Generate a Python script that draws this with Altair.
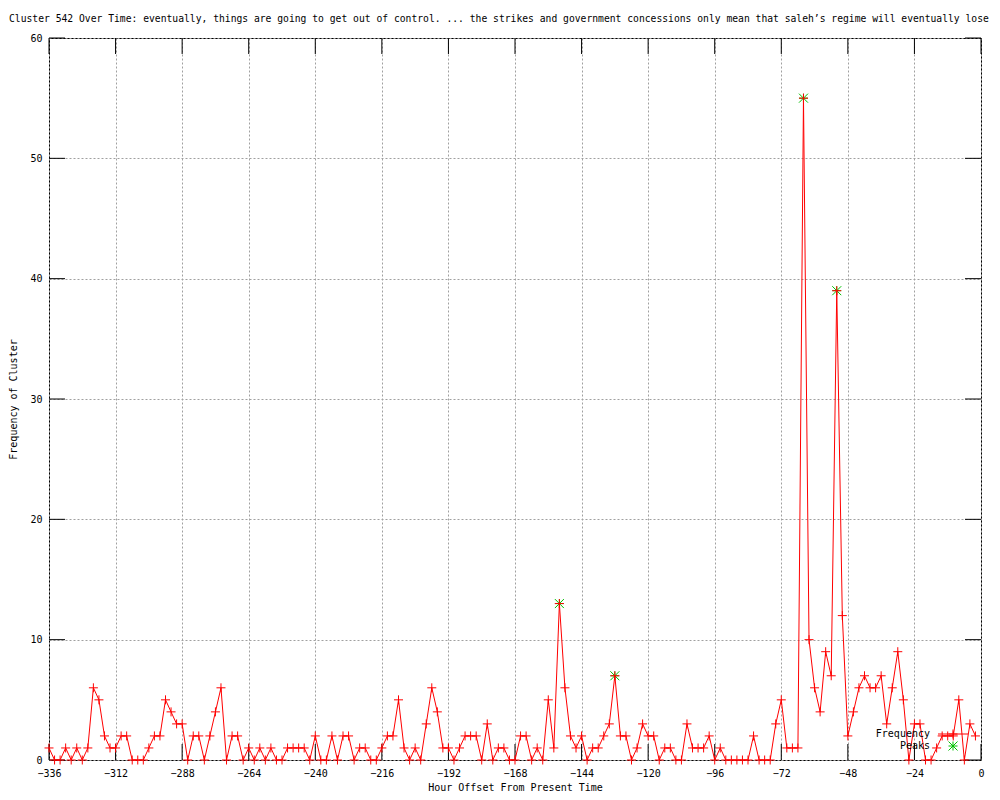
import altair as alt
import pandas as pd

# ---- data ----
hours = list(range(-336, 0, 2))
freq_a = [1, 0, 0, 1, 0, 1, 0, 1, 6, 5, 2, 1, 1, 2, 2, 0, 0, 0, 1, 2, 2, 5, 4, 3, 3, 0, 2, 2, 0, 2, 4, 6, 0, 2, 2, 0, 1]
freq_b = [0, 1, 0, 1, 0, 0, 1, 1, 1, 1, 0, 2, 0, 0, 2, 0, 2, 2, 0, 1, 1, 0, 0, 1, 2, 2, 5, 1, 0, 1, 0, 3, 6, 4, 1, 1, 0, 1, 2, 2, 2, 0, 3]
freq_c = [0, 1, 1, 0, 0, 2, 2, 0, 1, 0, 5, 1, 13, 6, 2, 1, 2, 0, 1, 1, 2, 3, 7, 2, 2, 0, 1, 3, 2, 2, 0, 1, 1, 0, 0, 3, 1, 1, 1, 2, 0, 1, 0, 0, 0]
freq_d = [0, 0, 2, 0, 0, 0, 3, 5, 1, 1, 1, 55, 10, 6, 4, 9, 7, 39, 12, 2, 4, 6, 7, 6, 6, 7, 3, 6, 9, 5, 0, 3, 3, 0, 0, 1, 2, 2, 2, 5, 0, 3, 2]
freq = freq_a + freq_b + freq_c + freq_d

peak_hours = [-152, -132, -64, -52]
peak_values = [13, 7, 55, 39]

x_ticks = list(range(-336, 1, 24))
y_ticks = list(range(0, 61, 10))

title_text = ("Cluster 542 Over Time: eventually, things are going to get out of control. ... "
              "the strikes and government concessions only mean that saleh\u2019s regime will eventually lose")
x_title = "Hour Offset From Present Time"
y_title = "Frequency of Cluster"
legend_labels = ["Frequency", "Peaks"]

# ---- layout ----
W, H = 932, 722
FONT = "DejaVu Sans Mono"
RED = "#ff0000"
GREEN = "#00c000"
GRID = "#a0a0a0"
PLUS = "M-1,0L1,0M0,-1L0,1"
STAR = "M-1,-1L1,1M-1,1L1,-1M-1,0L1,0M0,-1L0,1"

df = pd.DataFrame({"hour": hours, "freq": freq})
peaks_df = pd.DataFrame({"hour": peak_hours, "freq": peak_values})
xt_df = pd.DataFrame({"hour": x_ticks})
yt_df = pd.DataFrame({"freq": y_ticks})

x_scale = alt.Scale(domain=[-336, 0], nice=False, zero=False)
y_scale = alt.Scale(domain=[0, 60], nice=False, zero=True)

x_axis = alt.Axis(values=x_ticks, format="d", grid=True, gridDash=[2, 2], gridColor=GRID,
                  gridWidth=1, ticks=False, tickSize=0, domain=False, labelFont=FONT, labelFontSize=10,
                  labelColor="black", labelPadding=13, labelBaseline="middle", labelFlush=False,
                  labelOverlap=False, title=x_title, titleFont=FONT, titleFontSize=10,
                  titleFontWeight="normal", titleColor="black", titleX=W / 2, titleY=27,
                  titleAlign="center", titleBaseline="middle")
y_axis = alt.Axis(values=y_ticks, format="d", grid=True, gridDash=[2, 2], gridColor=GRID,
                  gridWidth=1, ticks=False, tickSize=0, domain=False, labelFont=FONT, labelFontSize=10,
                  labelColor="black", labelPadding=7, labelFlush=False, labelOverlap=False,
                  title=y_title, titleFont=FONT, titleFontSize=10, titleFontWeight="normal",
                  titleColor="black", titleAngle=270, titleX=-36, titleY=H / 2,
                  titleAlign="center", titleBaseline="middle")

X = alt.X("hour:Q", scale=x_scale, axis=x_axis)
Y = alt.Y("freq:Q", scale=y_scale, axis=y_axis)

line = alt.Chart(df).mark_line(color=RED, strokeWidth=1).encode(x=X, y=Y)
pts = alt.Chart(df).mark_point(shape=PLUS, size=81, color=RED, filled=False,
                               strokeWidth=1, opacity=1).encode(x=X, y=Y)
peaks = alt.Chart(peaks_df).mark_point(shape=STAR, size=81, color=GREEN, filled=False,
                                       strokeWidth=1, opacity=1).encode(x=X, y=Y)

tick_b = alt.Chart(xt_df).mark_rule(color="black", strokeWidth=1).encode(
    x=X, y=alt.value(H), y2=alt.value(H - 16))
tick_t = alt.Chart(xt_df).mark_rule(color="black", strokeWidth=1).encode(
    x=X, y=alt.value(0), y2=alt.value(16))
tick_l = alt.Chart(yt_df).mark_rule(color="black", strokeWidth=1).encode(
    y=Y, x=alt.value(0), x2=alt.value(16))
tick_r = alt.Chart(yt_df).mark_rule(color="black", strokeWidth=1).encode(
    y=Y, x=alt.value(W), x2=alt.value(W - 16))

title_df = pd.DataFrame({"t": [title_text]})
title = alt.Chart(title_df).mark_text(font=FONT, fontSize=9.7, align="left", baseline="middle",
                                      color="black").encode(
    text="t:N", x=alt.value(-40), y=alt.value(-19))

leg_df1 = pd.DataFrame({"label": [legend_labels[0]]})
leg_df2 = pd.DataFrame({"label": [legend_labels[1]]})
leg_text1 = alt.Chart(leg_df1).mark_text(font=FONT, fontSize=10, align="right", baseline="middle",
                                         color="black").encode(
    text="label:N", x=alt.value(881), y=alt.value(696))
leg_text2 = alt.Chart(leg_df2).mark_text(font=FONT, fontSize=10, align="right", baseline="middle",
                                         color="black").encode(
    text="label:N", x=alt.value(881), y=alt.value(708))
leg_line = alt.Chart(leg_df1).mark_rule(color=RED, strokeWidth=1).encode(
    x=alt.value(889), x2=alt.value(919), y=alt.value(696))
leg_pt = alt.Chart(leg_df1).mark_point(shape=PLUS, size=81, color=RED, filled=False,
                                       strokeWidth=1, opacity=1).encode(
    x=alt.value(904), y=alt.value(696))
leg_pk = alt.Chart(leg_df2).mark_point(shape=STAR, size=81, color=GREEN, filled=False,
                                       strokeWidth=1, opacity=1).encode(
    x=alt.value(904), y=alt.value(708))

chart = alt.layer(
    tick_b, tick_t, tick_l, tick_r, peaks, line, pts, title,
    leg_text1, leg_text2, leg_line, leg_pt, leg_pk
).properties(
    width=W, height=H,
    autosize=alt.AutoSizeParams(type="none"),
    padding={"left": 41, "top": 30, "right": 11, "bottom": 32},
    background="white",
).configure_view(stroke="black", strokeWidth=1)

chart.save("out.html", embed_options={"renderer": "svg", "actions": False})
